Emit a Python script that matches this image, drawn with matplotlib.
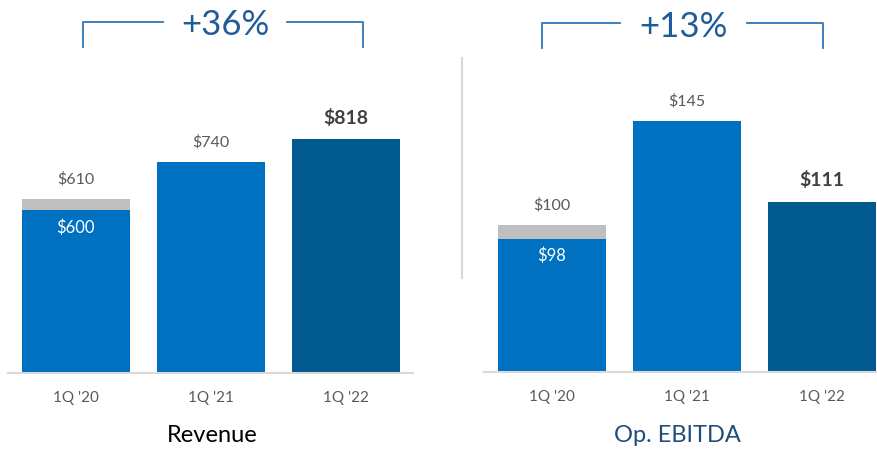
import matplotlib
matplotlib.use('Agg')
import matplotlib.pyplot as plt
from matplotlib.lines import Line2D

plt.rcParams['font.family'] = ['Lato', 'DejaVu Sans']

quarters = ["1Q '20", "1Q '21", "1Q '22"]

# revenue: blue part, grey add-on on 1Q '20 (heights as drawn)
rev_blue = [571, 740, 818]
rev_grey = [38, 0, 0]
rev_top_labels = ['$610', '$740', '$818']
rev_inner_label = '$600'

# op. EBITDA (chart is not drawn to scale, heights as drawn)
ebitda_blue = [87, 164, 111]
ebitda_grey = [9, 0, 0]
ebitda_top_labels = ['$100', '$145', '$111']
ebitda_inner_label = '$98'

growth = ['+36%', '+13%']

BLUE = '#0070C0'
DARK = '#00598F'
GREY = '#BFBFBF'
TXT = '#595959'

W, H = 877, 451
fig = plt.figure(figsize=(W / 100, H / 100), dpi=100)


def px(x, y):
    return x / W, 1 - y / H


def panel(rect, blue, grey, top_labels, inner, ylim_top, xmax):
    ax = fig.add_axes(rect)
    x = range(len(blue))
    colors = [BLUE, BLUE, DARK]
    ax.bar(x, blue, width=0.8, color=colors)
    ax.bar(x, grey, bottom=blue, width=0.8, color=GREY)
    for i, lab in enumerate(top_labels):
        top = blue[i] + grey[i]
        bold = i == len(top_labels) - 1
        ax.annotate(lab, (i, top), xytext=(0, 15.5 if bold else 14),
                    textcoords='offset points', ha='center', va='center',
                    fontsize=14 if bold else 11.5,
                    fontweight='bold' if bold else 'normal',
                    color='#404040' if bold else TXT)
    ax.annotate(inner, (0, blue[0]), xytext=(0, -12.5), textcoords='offset points',
                ha='center', va='center', fontsize=12, color='white')
    ax.set_xlim(-0.5, xmax)
    ax.set_ylim(0, ylim_top)
    ax.set_xticks(list(x))
    ax.set_xticklabels(quarters, fontsize=11, color=TXT)
    ax.tick_params(axis='x', length=0, pad=13)
    ax.set_yticks([])
    for s in ['top', 'right', 'left']:
        ax.spines[s].set_visible(False)
    ax.spines['bottom'].set_color('#D9D9D9')
    ax.spines['bottom'].set_linewidth(1.5)
    return ax


panel([8 / W, 1 - 373 / H, 405 / W, 373 / H], rev_blue, rev_grey,
      rev_top_labels, rev_inner_label, 373 / 0.2855, 2.5)
panel([484 / W, 1 - 372 / H, 393 / W, 372 / H], ebitda_blue, ebitda_grey,
      ebitda_top_labels, ebitda_inner_label, 372 / 1.532, -0.5 + 393 / 135)

# separator
fig.add_artist(Line2D([462 / W] * 2, [1 - 58 / H, 1 - 278 / H],
                      transform=fig.transFigure, color='#D9D9D9', lw=1.5))

# brackets with growth figures
brackets = [(83, 163, 287, 363, 22, 47, 225, 25), (542, 620, 747, 823, 23, 48, 683, 27)]
for (x0, x1, x2, x3, yt, yb, tx, ty), g in zip(brackets, growth):
    for xs, ys in [([x0, x0, x1], [yb, yt, yt]), ([x2, x3, x3], [yt, yt, yb])]:
        fig.add_artist(Line2D([v / W for v in xs], [1 - v / H for v in ys],
                              transform=fig.transFigure, color='#2E75B6', lw=1.3))
    fig.text(*px(tx, ty), g, ha='center', va='center', fontsize=25, color='#1F5C99')

fig.text(*px(212, 435), 'Revenue', ha='center', va='center', fontsize=17, color='black')
fig.text(*px(677, 435), 'Op. EBITDA', ha='center', va='center', fontsize=17, color='#1F4E79')

fig.savefig('out.png', dpi=100)
